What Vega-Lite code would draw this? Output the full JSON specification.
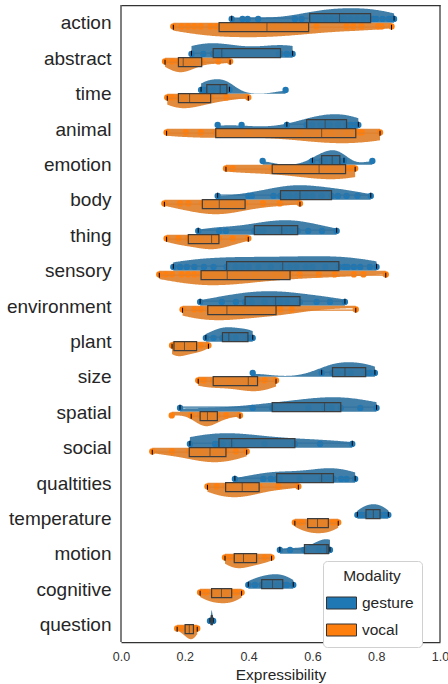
{
  "$schema": "https://vega.github.io/schema/vega-lite/v6.json",
  "padding": {"left": 6, "top": 4, "right": 7, "bottom": 2},
  "spacing": 0,
  "bounds": "flush",
  "resolve": {"scale": {"color": "shared"}},
  "config": {
    "font": "Liberation Sans",
    "view": {"stroke": null},
    "area": {"opacity": 0.92},
    "circle": {"size": 40, "opacity": 1},
    "rule": {"color": "#333333", "strokeWidth": 1.25},
    "boxplot": {"extent": 1.5, "size": 9, "outliers": false,
      "box": {"stroke": "#3d3d3d", "strokeWidth": 1.2, "fillOpacity": 0.85},
      "median": {"color": "#3d3d3d", "strokeWidth": 1.2},
      "rule": {"color": "#3d3d3d", "strokeWidth": 1.2},
      "ticks": {"color": "#3d3d3d", "size": 5}},
    "axis": {"grid": false, "ticks": false, "domainColor": "#333333", "domainWidth": 1.25, "labelFlush": false},
    "axisY": {"title": null, "domain": false, "ticks": false, "labelFontSize": 19, "labelColor": "#262626", "labelPadding": 10},
    "legend": {"orient": "none", "legendX": 202, "legendY": 556, "titleFontSize": 15.5, "titleFontWeight": "normal", "titleColor": "#262626", "titleAnchor": "middle", "labelFontSize": 15.5, "labelColor": "#262626", "symbolType": "M-1.5,-0.6H1.5V0.6H-1.5Z", "symbolSize": 400, "symbolStrokeColor": "#333333", "symbolStrokeWidth": 1, "strokeColor": "#d0d0d0", "fillColor": "white", "cornerRadius": 4, "padding": 8, "rowPadding": 8, "labelOffset": 10, "titlePadding": 8, "symbolOpacity": 1}
  },
  "data": {"values": [
{"c":"action","m":"gesture","v":0.347},{"c":"action","m":"gesture","v":0.381},{"c":"action","m":"gesture","v":0.397},{"c":"action","m":"gesture","v":0.43},{"c":"action","m":"gesture","v":0.545},{"c":"action","m":"gesture","v":0.566},{"c":"action","m":"gesture","v":0.6},{"c":"action","m":"gesture","v":0.61},{"c":"action","m":"gesture","v":0.62},{"c":"action","m":"gesture","v":0.64},{"c":"action","m":"gesture","v":0.66},{"c":"action","m":"gesture","v":0.68},{"c":"action","m":"gesture","v":0.69},{"c":"action","m":"gesture","v":0.7},{"c":"action","m":"gesture","v":0.72},{"c":"action","m":"gesture","v":0.74},{"c":"action","m":"gesture","v":0.76},{"c":"action","m":"gesture","v":0.78},{"c":"action","m":"gesture","v":0.79},{"c":"action","m":"gesture","v":0.8},{"c":"action","m":"gesture","v":0.82},{"c":"action","m":"gesture","v":0.84},{"c":"action","m":"gesture","v":0.85},{"c":"action","m":"gesture","v":0.856},
{"c":"action","m":"vocal","v":0.164},{"c":"action","m":"vocal","v":0.19},{"c":"action","m":"vocal","v":0.21},{"c":"action","m":"vocal","v":0.23},{"c":"action","m":"vocal","v":0.25},{"c":"action","m":"vocal","v":0.28},{"c":"action","m":"vocal","v":0.3},{"c":"action","m":"vocal","v":0.31},{"c":"action","m":"vocal","v":0.33},{"c":"action","m":"vocal","v":0.35},{"c":"action","m":"vocal","v":0.38},{"c":"action","m":"vocal","v":0.4},{"c":"action","m":"vocal","v":0.43},{"c":"action","m":"vocal","v":0.455},{"c":"action","m":"vocal","v":0.46},{"c":"action","m":"vocal","v":0.48},{"c":"action","m":"vocal","v":0.5},{"c":"action","m":"vocal","v":0.53},{"c":"action","m":"vocal","v":0.55},{"c":"action","m":"vocal","v":0.57},{"c":"action","m":"vocal","v":0.58},{"c":"action","m":"vocal","v":0.613},{"c":"action","m":"vocal","v":0.707},{"c":"action","m":"vocal","v":0.728},{"c":"action","m":"vocal","v":0.754},{"c":"action","m":"vocal","v":0.806},{"c":"action","m":"vocal","v":0.817},{"c":"action","m":"vocal","v":0.848},
{"c":"abstract","m":"gesture","v":0.221},{"c":"abstract","m":"gesture","v":0.258},{"c":"abstract","m":"gesture","v":0.289},{"c":"abstract","m":"gesture","v":0.305},{"c":"abstract","m":"gesture","v":0.316},{"c":"abstract","m":"gesture","v":0.495},{"c":"abstract","m":"gesture","v":0.5},{"c":"abstract","m":"gesture","v":0.52},{"c":"abstract","m":"gesture","v":0.538},
{"c":"abstract","m":"vocal","v":0.138},{"c":"abstract","m":"vocal","v":0.16},{"c":"abstract","m":"vocal","v":0.18},{"c":"abstract","m":"vocal","v":0.19},{"c":"abstract","m":"vocal","v":0.195},{"c":"abstract","m":"vocal","v":0.22},{"c":"abstract","m":"vocal","v":0.253},{"c":"abstract","m":"vocal","v":0.305},{"c":"abstract","m":"vocal","v":0.342},
{"c":"time","m":"gesture","v":0.251},{"c":"time","m":"gesture","v":0.26},{"c":"time","m":"gesture","v":0.269},{"c":"time","m":"gesture","v":0.29},{"c":"time","m":"gesture","v":0.311},{"c":"time","m":"gesture","v":0.32},{"c":"time","m":"gesture","v":0.332},{"c":"time","m":"gesture","v":0.34},{"c":"time","m":"gesture","v":0.516},
{"c":"time","m":"vocal","v":0.145},{"c":"time","m":"vocal","v":0.16},{"c":"time","m":"vocal","v":0.18},{"c":"time","m":"vocal","v":0.2},{"c":"time","m":"vocal","v":0.215},{"c":"time","m":"vocal","v":0.25},{"c":"time","m":"vocal","v":0.281},{"c":"time","m":"vocal","v":0.33},{"c":"time","m":"vocal","v":0.399},
{"c":"animal","m":"gesture","v":0.303},{"c":"animal","m":"gesture","v":0.378},{"c":"animal","m":"gesture","v":0.52},{"c":"animal","m":"gesture","v":0.582},{"c":"animal","m":"gesture","v":0.6},{"c":"animal","m":"gesture","v":0.625},{"c":"animal","m":"gesture","v":0.64},{"c":"animal","m":"gesture","v":0.655},{"c":"animal","m":"gesture","v":0.68},{"c":"animal","m":"gesture","v":0.707},{"c":"animal","m":"gesture","v":0.72},{"c":"animal","m":"gesture","v":0.735},{"c":"animal","m":"gesture","v":0.744},
{"c":"animal","m":"vocal","v":0.143},{"c":"animal","m":"vocal","v":0.203},{"c":"animal","m":"vocal","v":0.25},{"c":"animal","m":"vocal","v":0.297},{"c":"animal","m":"vocal","v":0.4},{"c":"animal","m":"vocal","v":0.561},{"c":"animal","m":"vocal","v":0.629},{"c":"animal","m":"vocal","v":0.66},{"c":"animal","m":"vocal","v":0.707},{"c":"animal","m":"vocal","v":0.736},{"c":"animal","m":"vocal","v":0.745},{"c":"animal","m":"vocal","v":0.755},{"c":"animal","m":"vocal","v":0.812},
{"c":"emotion","m":"gesture","v":0.444},{"c":"emotion","m":"gesture","v":0.6},{"c":"emotion","m":"gesture","v":0.629},{"c":"emotion","m":"gesture","v":0.64},{"c":"emotion","m":"gesture","v":0.662},{"c":"emotion","m":"gesture","v":0.67},{"c":"emotion","m":"gesture","v":0.686},{"c":"emotion","m":"gesture","v":0.699},{"c":"emotion","m":"gesture","v":0.788},
{"c":"emotion","m":"vocal","v":0.329},{"c":"emotion","m":"vocal","v":0.35},{"c":"emotion","m":"vocal","v":0.474},{"c":"emotion","m":"vocal","v":0.55},{"c":"emotion","m":"vocal","v":0.621},{"c":"emotion","m":"vocal","v":0.65},{"c":"emotion","m":"vocal","v":0.704},{"c":"emotion","m":"vocal","v":0.72},{"c":"emotion","m":"vocal","v":0.734},
{"c":"body","m":"gesture","v":0.303},{"c":"body","m":"gesture","v":0.399},{"c":"body","m":"gesture","v":0.41},{"c":"body","m":"gesture","v":0.478},{"c":"body","m":"gesture","v":0.5},{"c":"body","m":"gesture","v":0.51},{"c":"body","m":"gesture","v":0.53},{"c":"body","m":"gesture","v":0.55},{"c":"body","m":"gesture","v":0.561},{"c":"body","m":"gesture","v":0.58},{"c":"body","m":"gesture","v":0.6},{"c":"body","m":"gesture","v":0.63},{"c":"body","m":"gesture","v":0.66},{"c":"body","m":"gesture","v":0.68},{"c":"body","m":"gesture","v":0.707},{"c":"body","m":"gesture","v":0.741},{"c":"body","m":"gesture","v":0.783},
{"c":"body","m":"vocal","v":0.136},{"c":"body","m":"vocal","v":0.185},{"c":"body","m":"vocal","v":0.211},{"c":"body","m":"vocal","v":0.255},{"c":"body","m":"vocal","v":0.275},{"c":"body","m":"vocal","v":0.29},{"c":"body","m":"vocal","v":0.308},{"c":"body","m":"vocal","v":0.34},{"c":"body","m":"vocal","v":0.36},{"c":"body","m":"vocal","v":0.389},{"c":"body","m":"vocal","v":0.445},{"c":"body","m":"vocal","v":0.498},{"c":"body","m":"vocal","v":0.561},
{"c":"thing","m":"gesture","v":0.242},{"c":"thing","m":"gesture","v":0.308},{"c":"thing","m":"gesture","v":0.329},{"c":"thing","m":"gesture","v":0.418},{"c":"thing","m":"gesture","v":0.43},{"c":"thing","m":"gesture","v":0.446},{"c":"thing","m":"gesture","v":0.504},{"c":"thing","m":"gesture","v":0.515},{"c":"thing","m":"gesture","v":0.535},{"c":"thing","m":"gesture","v":0.554},{"c":"thing","m":"gesture","v":0.587},{"c":"thing","m":"gesture","v":0.63},{"c":"thing","m":"gesture","v":0.676},
{"c":"thing","m":"vocal","v":0.143},{"c":"thing","m":"vocal","v":0.18},{"c":"thing","m":"vocal","v":0.211},{"c":"thing","m":"vocal","v":0.25},{"c":"thing","m":"vocal","v":0.284},{"c":"thing","m":"vocal","v":0.29},{"c":"thing","m":"vocal","v":0.307},{"c":"thing","m":"vocal","v":0.35},{"c":"thing","m":"vocal","v":0.399},
{"c":"sensory","m":"gesture","v":0.164},{"c":"sensory","m":"gesture","v":0.185},{"c":"sensory","m":"gesture","v":0.206},{"c":"sensory","m":"gesture","v":0.23},{"c":"sensory","m":"gesture","v":0.26},{"c":"sensory","m":"gesture","v":0.29},{"c":"sensory","m":"gesture","v":0.331},{"c":"sensory","m":"gesture","v":0.36},{"c":"sensory","m":"gesture","v":0.38},{"c":"sensory","m":"gesture","v":0.4},{"c":"sensory","m":"gesture","v":0.43},{"c":"sensory","m":"gesture","v":0.47},{"c":"sensory","m":"gesture","v":0.507},{"c":"sensory","m":"gesture","v":0.53},{"c":"sensory","m":"gesture","v":0.55},{"c":"sensory","m":"gesture","v":0.58},{"c":"sensory","m":"gesture","v":0.6},{"c":"sensory","m":"gesture","v":0.64},{"c":"sensory","m":"gesture","v":0.683},{"c":"sensory","m":"gesture","v":0.7},{"c":"sensory","m":"gesture","v":0.71},{"c":"sensory","m":"gesture","v":0.73},{"c":"sensory","m":"gesture","v":0.75},{"c":"sensory","m":"gesture","v":0.78},{"c":"sensory","m":"gesture","v":0.801},
{"c":"sensory","m":"vocal","v":0.12},{"c":"sensory","m":"vocal","v":0.14},{"c":"sensory","m":"vocal","v":0.16},{"c":"sensory","m":"vocal","v":0.19},{"c":"sensory","m":"vocal","v":0.21},{"c":"sensory","m":"vocal","v":0.23},{"c":"sensory","m":"vocal","v":0.251},{"c":"sensory","m":"vocal","v":0.27},{"c":"sensory","m":"vocal","v":0.29},{"c":"sensory","m":"vocal","v":0.3},{"c":"sensory","m":"vocal","v":0.31},{"c":"sensory","m":"vocal","v":0.32},{"c":"sensory","m":"vocal","v":0.333},{"c":"sensory","m":"vocal","v":0.36},{"c":"sensory","m":"vocal","v":0.39},{"c":"sensory","m":"vocal","v":0.42},{"c":"sensory","m":"vocal","v":0.48},{"c":"sensory","m":"vocal","v":0.5},{"c":"sensory","m":"vocal","v":0.53},{"c":"sensory","m":"vocal","v":0.56},{"c":"sensory","m":"vocal","v":0.62},{"c":"sensory","m":"vocal","v":0.67},{"c":"sensory","m":"vocal","v":0.73},{"c":"sensory","m":"vocal","v":0.76},{"c":"sensory","m":"vocal","v":0.83},
{"c":"environment","m":"gesture","v":0.248},{"c":"environment","m":"gesture","v":0.316},{"c":"environment","m":"gesture","v":0.36},{"c":"environment","m":"gesture","v":0.389},{"c":"environment","m":"gesture","v":0.41},{"c":"environment","m":"gesture","v":0.45},{"c":"environment","m":"gesture","v":0.485},{"c":"environment","m":"gesture","v":0.5},{"c":"environment","m":"gesture","v":0.52},{"c":"environment","m":"gesture","v":0.561},{"c":"environment","m":"gesture","v":0.613},{"c":"environment","m":"gesture","v":0.655},{"c":"environment","m":"gesture","v":0.702},
{"c":"environment","m":"vocal","v":0.193},{"c":"environment","m":"vocal","v":0.23},{"c":"environment","m":"vocal","v":0.25},{"c":"environment","m":"vocal","v":0.272},{"c":"environment","m":"vocal","v":0.29},{"c":"environment","m":"vocal","v":0.31},{"c":"environment","m":"vocal","v":0.332},{"c":"environment","m":"vocal","v":0.38},{"c":"environment","m":"vocal","v":0.44},{"c":"environment","m":"vocal","v":0.486},{"c":"environment","m":"vocal","v":0.5},{"c":"environment","m":"vocal","v":0.535},{"c":"environment","m":"vocal","v":0.736},
{"c":"plant","m":"gesture","v":0.266},{"c":"plant","m":"gesture","v":0.29},{"c":"plant","m":"gesture","v":0.318},{"c":"plant","m":"gesture","v":0.33},{"c":"plant","m":"gesture","v":0.338},{"c":"plant","m":"gesture","v":0.36},{"c":"plant","m":"gesture","v":0.398},{"c":"plant","m":"gesture","v":0.405},{"c":"plant","m":"gesture","v":0.413},
{"c":"plant","m":"vocal","v":0.16},{"c":"plant","m":"vocal","v":0.164},{"c":"plant","m":"vocal","v":0.166},{"c":"plant","m":"vocal","v":0.185},{"c":"plant","m":"vocal","v":0.199},{"c":"plant","m":"vocal","v":0.215},{"c":"plant","m":"vocal","v":0.237},{"c":"plant","m":"vocal","v":0.25},{"c":"plant","m":"vocal","v":0.274},
{"c":"size","m":"gesture","v":0.413},{"c":"size","m":"gesture","v":0.629},{"c":"size","m":"gesture","v":0.663},{"c":"size","m":"gesture","v":0.68},{"c":"size","m":"gesture","v":0.702},{"c":"size","m":"gesture","v":0.72},{"c":"size","m":"gesture","v":0.767},{"c":"size","m":"gesture","v":0.78},{"c":"size","m":"gesture","v":0.796},
{"c":"size","m":"vocal","v":0.242},{"c":"size","m":"vocal","v":0.26},{"c":"size","m":"vocal","v":0.289},{"c":"size","m":"vocal","v":0.34},{"c":"size","m":"vocal","v":0.399},{"c":"size","m":"vocal","v":0.41},{"c":"size","m":"vocal","v":0.428},{"c":"size","m":"vocal","v":0.45},{"c":"size","m":"vocal","v":0.486},
{"c":"spatial","m":"gesture","v":0.185},{"c":"spatial","m":"gesture","v":0.413},{"c":"spatial","m":"gesture","v":0.474},{"c":"spatial","m":"gesture","v":0.587},{"c":"spatial","m":"gesture","v":0.638},{"c":"spatial","m":"gesture","v":0.66},{"c":"spatial","m":"gesture","v":0.689},{"c":"spatial","m":"gesture","v":0.75},{"c":"spatial","m":"gesture","v":0.801},
{"c":"spatial","m":"vocal","v":0.159},{"c":"spatial","m":"vocal","v":0.22},{"c":"spatial","m":"vocal","v":0.248},{"c":"spatial","m":"vocal","v":0.26},{"c":"spatial","m":"vocal","v":0.271},{"c":"spatial","m":"vocal","v":0.28},{"c":"spatial","m":"vocal","v":0.302},{"c":"spatial","m":"vocal","v":0.33},{"c":"spatial","m":"vocal","v":0.373},
{"c":"social","m":"gesture","v":0.216},{"c":"social","m":"gesture","v":0.295},{"c":"social","m":"gesture","v":0.307},{"c":"social","m":"gesture","v":0.32},{"c":"social","m":"gesture","v":0.347},{"c":"social","m":"gesture","v":0.45},{"c":"social","m":"gesture","v":0.545},{"c":"social","m":"gesture","v":0.624},{"c":"social","m":"gesture","v":0.725},
{"c":"social","m":"vocal","v":0.098},{"c":"social","m":"vocal","v":0.16},{"c":"social","m":"vocal","v":0.214},{"c":"social","m":"vocal","v":0.25},{"c":"social","m":"vocal","v":0.279},{"c":"social","m":"vocal","v":0.295},{"c":"social","m":"vocal","v":0.329},{"c":"social","m":"vocal","v":0.36},{"c":"social","m":"vocal","v":0.394},
{"c":"qualtities","m":"gesture","v":0.357},{"c":"qualtities","m":"gesture","v":0.446},{"c":"qualtities","m":"gesture","v":0.47},{"c":"qualtities","m":"gesture","v":0.488},{"c":"qualtities","m":"gesture","v":0.498},{"c":"qualtities","m":"gesture","v":0.56},{"c":"qualtities","m":"gesture","v":0.629},{"c":"qualtities","m":"gesture","v":0.635},{"c":"qualtities","m":"gesture","v":0.65},{"c":"qualtities","m":"gesture","v":0.666},{"c":"qualtities","m":"gesture","v":0.69},{"c":"qualtities","m":"gesture","v":0.707},{"c":"qualtities","m":"gesture","v":0.734},
{"c":"qualtities","m":"vocal","v":0.271},{"c":"qualtities","m":"vocal","v":0.3},{"c":"qualtities","m":"vocal","v":0.328},{"c":"qualtities","m":"vocal","v":0.35},{"c":"qualtities","m":"vocal","v":0.38},{"c":"qualtities","m":"vocal","v":0.4},{"c":"qualtities","m":"vocal","v":0.433},{"c":"qualtities","m":"vocal","v":0.493},{"c":"qualtities","m":"vocal","v":0.556},
{"c":"temperature","m":"gesture","v":0.741},{"c":"temperature","m":"gesture","v":0.755},{"c":"temperature","m":"gesture","v":0.768},{"c":"temperature","m":"gesture","v":0.78},{"c":"temperature","m":"gesture","v":0.791},{"c":"temperature","m":"gesture","v":0.8},{"c":"temperature","m":"gesture","v":0.812},{"c":"temperature","m":"gesture","v":0.825},{"c":"temperature","m":"gesture","v":0.838},
{"c":"temperature","m":"vocal","v":0.545},{"c":"temperature","m":"vocal","v":0.565},{"c":"temperature","m":"vocal","v":0.585},{"c":"temperature","m":"vocal","v":0.6},{"c":"temperature","m":"vocal","v":0.616},{"c":"temperature","m":"vocal","v":0.63},{"c":"temperature","m":"vocal","v":0.65},{"c":"temperature","m":"vocal","v":0.665},{"c":"temperature","m":"vocal","v":0.681},
{"c":"motion","m":"gesture","v":0.498},{"c":"motion","m":"gesture","v":0.53},{"c":"motion","m":"gesture","v":0.575},{"c":"motion","m":"gesture","v":0.62},{"c":"motion","m":"gesture","v":0.645},{"c":"motion","m":"gesture","v":0.648},{"c":"motion","m":"gesture","v":0.65},{"c":"motion","m":"gesture","v":0.652},{"c":"motion","m":"gesture","v":0.655},
{"c":"motion","m":"vocal","v":0.326},{"c":"motion","m":"vocal","v":0.34},{"c":"motion","m":"vocal","v":0.355},{"c":"motion","m":"vocal","v":0.37},{"c":"motion","m":"vocal","v":0.384},{"c":"motion","m":"vocal","v":0.4},{"c":"motion","m":"vocal","v":0.425},{"c":"motion","m":"vocal","v":0.45},{"c":"motion","m":"vocal","v":0.472},
{"c":"cognitive","m":"gesture","v":0.399},{"c":"cognitive","m":"gesture","v":0.42},{"c":"cognitive","m":"gesture","v":0.441},{"c":"cognitive","m":"gesture","v":0.46},{"c":"cognitive","m":"gesture","v":0.475},{"c":"cognitive","m":"gesture","v":0.49},{"c":"cognitive","m":"gesture","v":0.507},{"c":"cognitive","m":"gesture","v":0.52},{"c":"cognitive","m":"gesture","v":0.54},
{"c":"cognitive","m":"vocal","v":0.248},{"c":"cognitive","m":"vocal","v":0.265},{"c":"cognitive","m":"vocal","v":0.284},{"c":"cognitive","m":"vocal","v":0.3},{"c":"cognitive","m":"vocal","v":0.315},{"c":"cognitive","m":"vocal","v":0.33},{"c":"cognitive","m":"vocal","v":0.347},{"c":"cognitive","m":"vocal","v":0.36},{"c":"cognitive","m":"vocal","v":0.378},
{"c":"question","m":"gesture","v":0.279},{"c":"question","m":"gesture","v":0.283},{"c":"question","m":"gesture","v":0.284},{"c":"question","m":"gesture","v":0.286},{"c":"question","m":"gesture","v":0.289},
{"c":"question","m":"vocal","v":0.176},{"c":"question","m":"vocal","v":0.19},{"c":"question","m":"vocal","v":0.201},{"c":"question","m":"vocal","v":0.21},{"c":"question","m":"vocal","v":0.214},{"c":"question","m":"vocal","v":0.22},{"c":"question","m":"vocal","v":0.227},{"c":"question","m":"vocal","v":0.233},{"c":"question","m":"vocal","v":0.239}
  ]},
  "vconcat": [
{"width":319,"height":35,"transform":[{"filter":"datum.c==='action'"}],"resolve":{"scale":{"y":"independent"}},"layer":[
{"transform":[{"filter":"datum.m==='gesture'"},{"density":"v","as":["v","d"]}],"mark":{"type":"area","color":"#3274a1"},"encoding":{"x":{"field":"v","type":"quantitative","scale":{"domain":[0,1],"nice":false},"axis":{"orient":"top","labels":false,"title":null}},"y":{"field":"d","type":"quantitative","scale":{"range":[17.7,3.2],"nice":false},"axis":null}}},
{"transform":[{"filter":"datum.m==='vocal'"},{"density":"v","as":["v","d"]}],"mark":{"type":"area","color":"#e1812c"},"encoding":{"x":{"field":"v","type":"quantitative","axis":{"orient":"top","labels":false,"title":null}},"y":{"field":"d","type":"quantitative","scale":{"range":[17.7,32.2],"nice":false},"axis":null}}},
{"mark":"circle","encoding":{"x":{"field":"v","type":"quantitative","axis":{"orient":"top","labels":false,"title":null}},"y":{"field":"m","type":"nominal","scale":{"type":"point","domain":["gesture","vocal"],"range":[10.2,25.2]},"axis":null},"color":{"field":"m","type":"nominal","title":"Modality","scale":{"domain":["gesture","vocal"],"range":["#1f77b4","#ff7f0e"]}}}},
{"transform":[{"filter":"datum.m==='gesture'"}],"mark":{"type":"boxplot","color":"#3274a1"},"encoding":{"x":{"field":"v","type":"quantitative","axis":{"orient":"top","labels":false,"title":null}},"y":{"field":"m","type":"nominal","scale":{"type":"band","domain":["gesture","vocal"],"range":[8.7,26.7],"padding":0},"axis":null}}},
{"transform":[{"filter":"datum.m==='vocal'"}],"mark":{"type":"boxplot","color":"#e1812c"},"encoding":{"x":{"field":"v","type":"quantitative","axis":{"orient":"top","labels":false,"title":null}},"y":{"field":"m","type":"nominal","scale":{"type":"band","domain":["gesture","vocal"],"range":[8.7,26.7],"padding":0},"axis":null}}},
{"data":{"values":[{}]},"mark":"rule","encoding":{"x":{"datum":0,"type":"quantitative","axis":{"orient":"top","labels":false,"title":null}}}},
{"data":{"values":[{}]},"mark":"rule","encoding":{"x":{"datum":1,"type":"quantitative","axis":{"orient":"top","labels":false,"title":null}}}},
{"mark":{"type":"point","opacity":0},"encoding":{"x":{"datum":0,"type":"quantitative","axis":{"orient":"top","labels":false,"title":null}},"y":{"field":"c","type":"nominal"}}}
]},
{"width":319,"height":36,"transform":[{"filter":"datum.c==='abstract'"}],"resolve":{"scale":{"y":"independent"}},"layer":[
{"transform":[{"filter":"datum.m==='gesture'"},{"density":"v","as":["v","d"]}],"mark":{"type":"area","color":"#3274a1"},"encoding":{"x":{"field":"v","type":"quantitative","scale":{"domain":[0,1],"nice":false},"axis":null},"y":{"field":"d","type":"quantitative","scale":{"range":[17.7,3.2],"nice":false},"axis":null}}},
{"transform":[{"filter":"datum.m==='vocal'"},{"density":"v","as":["v","d"]}],"mark":{"type":"area","color":"#e1812c"},"encoding":{"x":{"field":"v","type":"quantitative","axis":null},"y":{"field":"d","type":"quantitative","scale":{"range":[17.7,32.2],"nice":false},"axis":null}}},
{"mark":"circle","encoding":{"x":{"field":"v","type":"quantitative","axis":null},"y":{"field":"m","type":"nominal","scale":{"type":"point","domain":["gesture","vocal"],"range":[10.2,25.2]},"axis":null},"color":{"field":"m","type":"nominal","title":"Modality","scale":{"domain":["gesture","vocal"],"range":["#1f77b4","#ff7f0e"]}}}},
{"transform":[{"filter":"datum.m==='gesture'"}],"mark":{"type":"boxplot","color":"#3274a1"},"encoding":{"x":{"field":"v","type":"quantitative","axis":null},"y":{"field":"m","type":"nominal","scale":{"type":"band","domain":["gesture","vocal"],"range":[8.7,26.7],"padding":0},"axis":null}}},
{"transform":[{"filter":"datum.m==='vocal'"}],"mark":{"type":"boxplot","color":"#e1812c"},"encoding":{"x":{"field":"v","type":"quantitative","axis":null},"y":{"field":"m","type":"nominal","scale":{"type":"band","domain":["gesture","vocal"],"range":[8.7,26.7],"padding":0},"axis":null}}},
{"data":{"values":[{}]},"mark":"rule","encoding":{"x":{"datum":0,"type":"quantitative","axis":null}}},
{"data":{"values":[{}]},"mark":"rule","encoding":{"x":{"datum":1,"type":"quantitative","axis":null}}},
{"mark":{"type":"point","opacity":0},"encoding":{"x":{"datum":0,"type":"quantitative","axis":null},"y":{"field":"c","type":"nominal"}}}
]},
{"width":319,"height":35,"transform":[{"filter":"datum.c==='time'"}],"resolve":{"scale":{"y":"independent"}},"layer":[
{"transform":[{"filter":"datum.m==='gesture'"},{"density":"v","as":["v","d"]}],"mark":{"type":"area","color":"#3274a1"},"encoding":{"x":{"field":"v","type":"quantitative","scale":{"domain":[0,1],"nice":false},"axis":null},"y":{"field":"d","type":"quantitative","scale":{"range":[17.7,3.2],"nice":false},"axis":null}}},
{"transform":[{"filter":"datum.m==='vocal'"},{"density":"v","as":["v","d"]}],"mark":{"type":"area","color":"#e1812c"},"encoding":{"x":{"field":"v","type":"quantitative","axis":null},"y":{"field":"d","type":"quantitative","scale":{"range":[17.7,32.2],"nice":false},"axis":null}}},
{"mark":"circle","encoding":{"x":{"field":"v","type":"quantitative","axis":null},"y":{"field":"m","type":"nominal","scale":{"type":"point","domain":["gesture","vocal"],"range":[10.2,25.2]},"axis":null},"color":{"field":"m","type":"nominal","title":"Modality","scale":{"domain":["gesture","vocal"],"range":["#1f77b4","#ff7f0e"]}}}},
{"transform":[{"filter":"datum.m==='gesture'"}],"mark":{"type":"boxplot","color":"#3274a1"},"encoding":{"x":{"field":"v","type":"quantitative","axis":null},"y":{"field":"m","type":"nominal","scale":{"type":"band","domain":["gesture","vocal"],"range":[8.7,26.7],"padding":0},"axis":null}}},
{"transform":[{"filter":"datum.m==='vocal'"}],"mark":{"type":"boxplot","color":"#e1812c"},"encoding":{"x":{"field":"v","type":"quantitative","axis":null},"y":{"field":"m","type":"nominal","scale":{"type":"band","domain":["gesture","vocal"],"range":[8.7,26.7],"padding":0},"axis":null}}},
{"data":{"values":[{}]},"mark":"rule","encoding":{"x":{"datum":0,"type":"quantitative","axis":null}}},
{"data":{"values":[{}]},"mark":"rule","encoding":{"x":{"datum":1,"type":"quantitative","axis":null}}},
{"mark":{"type":"point","opacity":0},"encoding":{"x":{"datum":0,"type":"quantitative","axis":null},"y":{"field":"c","type":"nominal"}}}
]},
{"width":319,"height":36,"transform":[{"filter":"datum.c==='animal'"}],"resolve":{"scale":{"y":"independent"}},"layer":[
{"transform":[{"filter":"datum.m==='gesture'"},{"density":"v","as":["v","d"]}],"mark":{"type":"area","color":"#3274a1"},"encoding":{"x":{"field":"v","type":"quantitative","scale":{"domain":[0,1],"nice":false},"axis":null},"y":{"field":"d","type":"quantitative","scale":{"range":[17.7,3.2],"nice":false},"axis":null}}},
{"transform":[{"filter":"datum.m==='vocal'"},{"density":"v","as":["v","d"]}],"mark":{"type":"area","color":"#e1812c"},"encoding":{"x":{"field":"v","type":"quantitative","axis":null},"y":{"field":"d","type":"quantitative","scale":{"range":[17.7,32.2],"nice":false},"axis":null}}},
{"mark":"circle","encoding":{"x":{"field":"v","type":"quantitative","axis":null},"y":{"field":"m","type":"nominal","scale":{"type":"point","domain":["gesture","vocal"],"range":[10.2,25.2]},"axis":null},"color":{"field":"m","type":"nominal","title":"Modality","scale":{"domain":["gesture","vocal"],"range":["#1f77b4","#ff7f0e"]}}}},
{"transform":[{"filter":"datum.m==='gesture'"}],"mark":{"type":"boxplot","color":"#3274a1"},"encoding":{"x":{"field":"v","type":"quantitative","axis":null},"y":{"field":"m","type":"nominal","scale":{"type":"band","domain":["gesture","vocal"],"range":[8.7,26.7],"padding":0},"axis":null}}},
{"transform":[{"filter":"datum.m==='vocal'"}],"mark":{"type":"boxplot","color":"#e1812c"},"encoding":{"x":{"field":"v","type":"quantitative","axis":null},"y":{"field":"m","type":"nominal","scale":{"type":"band","domain":["gesture","vocal"],"range":[8.7,26.7],"padding":0},"axis":null}}},
{"data":{"values":[{}]},"mark":"rule","encoding":{"x":{"datum":0,"type":"quantitative","axis":null}}},
{"data":{"values":[{}]},"mark":"rule","encoding":{"x":{"datum":1,"type":"quantitative","axis":null}}},
{"mark":{"type":"point","opacity":0},"encoding":{"x":{"datum":0,"type":"quantitative","axis":null},"y":{"field":"c","type":"nominal"}}}
]},
{"width":319,"height":35,"transform":[{"filter":"datum.c==='emotion'"}],"resolve":{"scale":{"y":"independent"}},"layer":[
{"transform":[{"filter":"datum.m==='gesture'"},{"density":"v","as":["v","d"]}],"mark":{"type":"area","color":"#3274a1"},"encoding":{"x":{"field":"v","type":"quantitative","scale":{"domain":[0,1],"nice":false},"axis":null},"y":{"field":"d","type":"quantitative","scale":{"range":[17.7,3.2],"nice":false},"axis":null}}},
{"transform":[{"filter":"datum.m==='vocal'"},{"density":"v","as":["v","d"]}],"mark":{"type":"area","color":"#e1812c"},"encoding":{"x":{"field":"v","type":"quantitative","axis":null},"y":{"field":"d","type":"quantitative","scale":{"range":[17.7,32.2],"nice":false},"axis":null}}},
{"mark":"circle","encoding":{"x":{"field":"v","type":"quantitative","axis":null},"y":{"field":"m","type":"nominal","scale":{"type":"point","domain":["gesture","vocal"],"range":[10.2,25.2]},"axis":null},"color":{"field":"m","type":"nominal","title":"Modality","scale":{"domain":["gesture","vocal"],"range":["#1f77b4","#ff7f0e"]}}}},
{"transform":[{"filter":"datum.m==='gesture'"}],"mark":{"type":"boxplot","color":"#3274a1"},"encoding":{"x":{"field":"v","type":"quantitative","axis":null},"y":{"field":"m","type":"nominal","scale":{"type":"band","domain":["gesture","vocal"],"range":[8.7,26.7],"padding":0},"axis":null}}},
{"transform":[{"filter":"datum.m==='vocal'"}],"mark":{"type":"boxplot","color":"#e1812c"},"encoding":{"x":{"field":"v","type":"quantitative","axis":null},"y":{"field":"m","type":"nominal","scale":{"type":"band","domain":["gesture","vocal"],"range":[8.7,26.7],"padding":0},"axis":null}}},
{"data":{"values":[{}]},"mark":"rule","encoding":{"x":{"datum":0,"type":"quantitative","axis":null}}},
{"data":{"values":[{}]},"mark":"rule","encoding":{"x":{"datum":1,"type":"quantitative","axis":null}}},
{"mark":{"type":"point","opacity":0},"encoding":{"x":{"datum":0,"type":"quantitative","axis":null},"y":{"field":"c","type":"nominal"}}}
]},
{"width":319,"height":35,"transform":[{"filter":"datum.c==='body'"}],"resolve":{"scale":{"y":"independent"}},"layer":[
{"transform":[{"filter":"datum.m==='gesture'"},{"density":"v","as":["v","d"]}],"mark":{"type":"area","color":"#3274a1"},"encoding":{"x":{"field":"v","type":"quantitative","scale":{"domain":[0,1],"nice":false},"axis":null},"y":{"field":"d","type":"quantitative","scale":{"range":[17.7,3.2],"nice":false},"axis":null}}},
{"transform":[{"filter":"datum.m==='vocal'"},{"density":"v","as":["v","d"]}],"mark":{"type":"area","color":"#e1812c"},"encoding":{"x":{"field":"v","type":"quantitative","axis":null},"y":{"field":"d","type":"quantitative","scale":{"range":[17.7,32.2],"nice":false},"axis":null}}},
{"mark":"circle","encoding":{"x":{"field":"v","type":"quantitative","axis":null},"y":{"field":"m","type":"nominal","scale":{"type":"point","domain":["gesture","vocal"],"range":[10.2,25.2]},"axis":null},"color":{"field":"m","type":"nominal","title":"Modality","scale":{"domain":["gesture","vocal"],"range":["#1f77b4","#ff7f0e"]}}}},
{"transform":[{"filter":"datum.m==='gesture'"}],"mark":{"type":"boxplot","color":"#3274a1"},"encoding":{"x":{"field":"v","type":"quantitative","axis":null},"y":{"field":"m","type":"nominal","scale":{"type":"band","domain":["gesture","vocal"],"range":[8.7,26.7],"padding":0},"axis":null}}},
{"transform":[{"filter":"datum.m==='vocal'"}],"mark":{"type":"boxplot","color":"#e1812c"},"encoding":{"x":{"field":"v","type":"quantitative","axis":null},"y":{"field":"m","type":"nominal","scale":{"type":"band","domain":["gesture","vocal"],"range":[8.7,26.7],"padding":0},"axis":null}}},
{"data":{"values":[{}]},"mark":"rule","encoding":{"x":{"datum":0,"type":"quantitative","axis":null}}},
{"data":{"values":[{}]},"mark":"rule","encoding":{"x":{"datum":1,"type":"quantitative","axis":null}}},
{"mark":{"type":"point","opacity":0},"encoding":{"x":{"datum":0,"type":"quantitative","axis":null},"y":{"field":"c","type":"nominal"}}}
]},
{"width":319,"height":36,"transform":[{"filter":"datum.c==='thing'"}],"resolve":{"scale":{"y":"independent"}},"layer":[
{"transform":[{"filter":"datum.m==='gesture'"},{"density":"v","as":["v","d"]}],"mark":{"type":"area","color":"#3274a1"},"encoding":{"x":{"field":"v","type":"quantitative","scale":{"domain":[0,1],"nice":false},"axis":null},"y":{"field":"d","type":"quantitative","scale":{"range":[17.7,3.2],"nice":false},"axis":null}}},
{"transform":[{"filter":"datum.m==='vocal'"},{"density":"v","as":["v","d"]}],"mark":{"type":"area","color":"#e1812c"},"encoding":{"x":{"field":"v","type":"quantitative","axis":null},"y":{"field":"d","type":"quantitative","scale":{"range":[17.7,32.2],"nice":false},"axis":null}}},
{"mark":"circle","encoding":{"x":{"field":"v","type":"quantitative","axis":null},"y":{"field":"m","type":"nominal","scale":{"type":"point","domain":["gesture","vocal"],"range":[10.2,25.2]},"axis":null},"color":{"field":"m","type":"nominal","title":"Modality","scale":{"domain":["gesture","vocal"],"range":["#1f77b4","#ff7f0e"]}}}},
{"transform":[{"filter":"datum.m==='gesture'"}],"mark":{"type":"boxplot","color":"#3274a1"},"encoding":{"x":{"field":"v","type":"quantitative","axis":null},"y":{"field":"m","type":"nominal","scale":{"type":"band","domain":["gesture","vocal"],"range":[8.7,26.7],"padding":0},"axis":null}}},
{"transform":[{"filter":"datum.m==='vocal'"}],"mark":{"type":"boxplot","color":"#e1812c"},"encoding":{"x":{"field":"v","type":"quantitative","axis":null},"y":{"field":"m","type":"nominal","scale":{"type":"band","domain":["gesture","vocal"],"range":[8.7,26.7],"padding":0},"axis":null}}},
{"data":{"values":[{}]},"mark":"rule","encoding":{"x":{"datum":0,"type":"quantitative","axis":null}}},
{"data":{"values":[{}]},"mark":"rule","encoding":{"x":{"datum":1,"type":"quantitative","axis":null}}},
{"mark":{"type":"point","opacity":0},"encoding":{"x":{"datum":0,"type":"quantitative","axis":null},"y":{"field":"c","type":"nominal"}}}
]},
{"width":319,"height":35,"transform":[{"filter":"datum.c==='sensory'"}],"resolve":{"scale":{"y":"independent"}},"layer":[
{"transform":[{"filter":"datum.m==='gesture'"},{"density":"v","as":["v","d"]}],"mark":{"type":"area","color":"#3274a1"},"encoding":{"x":{"field":"v","type":"quantitative","scale":{"domain":[0,1],"nice":false},"axis":null},"y":{"field":"d","type":"quantitative","scale":{"range":[17.7,3.2],"nice":false},"axis":null}}},
{"transform":[{"filter":"datum.m==='vocal'"},{"density":"v","as":["v","d"]}],"mark":{"type":"area","color":"#e1812c"},"encoding":{"x":{"field":"v","type":"quantitative","axis":null},"y":{"field":"d","type":"quantitative","scale":{"range":[17.7,32.2],"nice":false},"axis":null}}},
{"mark":"circle","encoding":{"x":{"field":"v","type":"quantitative","axis":null},"y":{"field":"m","type":"nominal","scale":{"type":"point","domain":["gesture","vocal"],"range":[10.2,25.2]},"axis":null},"color":{"field":"m","type":"nominal","title":"Modality","scale":{"domain":["gesture","vocal"],"range":["#1f77b4","#ff7f0e"]}}}},
{"transform":[{"filter":"datum.m==='gesture'"}],"mark":{"type":"boxplot","color":"#3274a1"},"encoding":{"x":{"field":"v","type":"quantitative","axis":null},"y":{"field":"m","type":"nominal","scale":{"type":"band","domain":["gesture","vocal"],"range":[8.7,26.7],"padding":0},"axis":null}}},
{"transform":[{"filter":"datum.m==='vocal'"}],"mark":{"type":"boxplot","color":"#e1812c"},"encoding":{"x":{"field":"v","type":"quantitative","axis":null},"y":{"field":"m","type":"nominal","scale":{"type":"band","domain":["gesture","vocal"],"range":[8.7,26.7],"padding":0},"axis":null}}},
{"data":{"values":[{}]},"mark":"rule","encoding":{"x":{"datum":0,"type":"quantitative","axis":null}}},
{"data":{"values":[{}]},"mark":"rule","encoding":{"x":{"datum":1,"type":"quantitative","axis":null}}},
{"mark":{"type":"point","opacity":0},"encoding":{"x":{"datum":0,"type":"quantitative","axis":null},"y":{"field":"c","type":"nominal"}}}
]},
{"width":319,"height":36,"transform":[{"filter":"datum.c==='environment'"}],"resolve":{"scale":{"y":"independent"}},"layer":[
{"transform":[{"filter":"datum.m==='gesture'"},{"density":"v","as":["v","d"]}],"mark":{"type":"area","color":"#3274a1"},"encoding":{"x":{"field":"v","type":"quantitative","scale":{"domain":[0,1],"nice":false},"axis":null},"y":{"field":"d","type":"quantitative","scale":{"range":[17.7,3.2],"nice":false},"axis":null}}},
{"transform":[{"filter":"datum.m==='vocal'"},{"density":"v","as":["v","d"]}],"mark":{"type":"area","color":"#e1812c"},"encoding":{"x":{"field":"v","type":"quantitative","axis":null},"y":{"field":"d","type":"quantitative","scale":{"range":[17.7,32.2],"nice":false},"axis":null}}},
{"mark":"circle","encoding":{"x":{"field":"v","type":"quantitative","axis":null},"y":{"field":"m","type":"nominal","scale":{"type":"point","domain":["gesture","vocal"],"range":[10.2,25.2]},"axis":null},"color":{"field":"m","type":"nominal","title":"Modality","scale":{"domain":["gesture","vocal"],"range":["#1f77b4","#ff7f0e"]}}}},
{"transform":[{"filter":"datum.m==='gesture'"}],"mark":{"type":"boxplot","color":"#3274a1"},"encoding":{"x":{"field":"v","type":"quantitative","axis":null},"y":{"field":"m","type":"nominal","scale":{"type":"band","domain":["gesture","vocal"],"range":[8.7,26.7],"padding":0},"axis":null}}},
{"transform":[{"filter":"datum.m==='vocal'"}],"mark":{"type":"boxplot","color":"#e1812c"},"encoding":{"x":{"field":"v","type":"quantitative","axis":null},"y":{"field":"m","type":"nominal","scale":{"type":"band","domain":["gesture","vocal"],"range":[8.7,26.7],"padding":0},"axis":null}}},
{"data":{"values":[{}]},"mark":"rule","encoding":{"x":{"datum":0,"type":"quantitative","axis":null}}},
{"data":{"values":[{}]},"mark":"rule","encoding":{"x":{"datum":1,"type":"quantitative","axis":null}}},
{"mark":{"type":"point","opacity":0},"encoding":{"x":{"datum":0,"type":"quantitative","axis":null},"y":{"field":"c","type":"nominal"}}}
]},
{"width":319,"height":35,"transform":[{"filter":"datum.c==='plant'"}],"resolve":{"scale":{"y":"independent"}},"layer":[
{"transform":[{"filter":"datum.m==='gesture'"},{"density":"v","as":["v","d"]}],"mark":{"type":"area","color":"#3274a1"},"encoding":{"x":{"field":"v","type":"quantitative","scale":{"domain":[0,1],"nice":false},"axis":null},"y":{"field":"d","type":"quantitative","scale":{"range":[17.7,3.2],"nice":false},"axis":null}}},
{"transform":[{"filter":"datum.m==='vocal'"},{"density":"v","as":["v","d"]}],"mark":{"type":"area","color":"#e1812c"},"encoding":{"x":{"field":"v","type":"quantitative","axis":null},"y":{"field":"d","type":"quantitative","scale":{"range":[17.7,32.2],"nice":false},"axis":null}}},
{"mark":"circle","encoding":{"x":{"field":"v","type":"quantitative","axis":null},"y":{"field":"m","type":"nominal","scale":{"type":"point","domain":["gesture","vocal"],"range":[10.2,25.2]},"axis":null},"color":{"field":"m","type":"nominal","title":"Modality","scale":{"domain":["gesture","vocal"],"range":["#1f77b4","#ff7f0e"]}}}},
{"transform":[{"filter":"datum.m==='gesture'"}],"mark":{"type":"boxplot","color":"#3274a1"},"encoding":{"x":{"field":"v","type":"quantitative","axis":null},"y":{"field":"m","type":"nominal","scale":{"type":"band","domain":["gesture","vocal"],"range":[8.7,26.7],"padding":0},"axis":null}}},
{"transform":[{"filter":"datum.m==='vocal'"}],"mark":{"type":"boxplot","color":"#e1812c"},"encoding":{"x":{"field":"v","type":"quantitative","axis":null},"y":{"field":"m","type":"nominal","scale":{"type":"band","domain":["gesture","vocal"],"range":[8.7,26.7],"padding":0},"axis":null}}},
{"data":{"values":[{}]},"mark":"rule","encoding":{"x":{"datum":0,"type":"quantitative","axis":null}}},
{"data":{"values":[{}]},"mark":"rule","encoding":{"x":{"datum":1,"type":"quantitative","axis":null}}},
{"mark":{"type":"point","opacity":0},"encoding":{"x":{"datum":0,"type":"quantitative","axis":null},"y":{"field":"c","type":"nominal"}}}
]},
{"width":319,"height":35,"transform":[{"filter":"datum.c==='size'"}],"resolve":{"scale":{"y":"independent"}},"layer":[
{"transform":[{"filter":"datum.m==='gesture'"},{"density":"v","as":["v","d"]}],"mark":{"type":"area","color":"#3274a1"},"encoding":{"x":{"field":"v","type":"quantitative","scale":{"domain":[0,1],"nice":false},"axis":null},"y":{"field":"d","type":"quantitative","scale":{"range":[17.7,3.2],"nice":false},"axis":null}}},
{"transform":[{"filter":"datum.m==='vocal'"},{"density":"v","as":["v","d"]}],"mark":{"type":"area","color":"#e1812c"},"encoding":{"x":{"field":"v","type":"quantitative","axis":null},"y":{"field":"d","type":"quantitative","scale":{"range":[17.7,32.2],"nice":false},"axis":null}}},
{"mark":"circle","encoding":{"x":{"field":"v","type":"quantitative","axis":null},"y":{"field":"m","type":"nominal","scale":{"type":"point","domain":["gesture","vocal"],"range":[10.2,25.2]},"axis":null},"color":{"field":"m","type":"nominal","title":"Modality","scale":{"domain":["gesture","vocal"],"range":["#1f77b4","#ff7f0e"]}}}},
{"transform":[{"filter":"datum.m==='gesture'"}],"mark":{"type":"boxplot","color":"#3274a1"},"encoding":{"x":{"field":"v","type":"quantitative","axis":null},"y":{"field":"m","type":"nominal","scale":{"type":"band","domain":["gesture","vocal"],"range":[8.7,26.7],"padding":0},"axis":null}}},
{"transform":[{"filter":"datum.m==='vocal'"}],"mark":{"type":"boxplot","color":"#e1812c"},"encoding":{"x":{"field":"v","type":"quantitative","axis":null},"y":{"field":"m","type":"nominal","scale":{"type":"band","domain":["gesture","vocal"],"range":[8.7,26.7],"padding":0},"axis":null}}},
{"data":{"values":[{}]},"mark":"rule","encoding":{"x":{"datum":0,"type":"quantitative","axis":null}}},
{"data":{"values":[{}]},"mark":"rule","encoding":{"x":{"datum":1,"type":"quantitative","axis":null}}},
{"mark":{"type":"point","opacity":0},"encoding":{"x":{"datum":0,"type":"quantitative","axis":null},"y":{"field":"c","type":"nominal"}}}
]},
{"width":319,"height":36,"transform":[{"filter":"datum.c==='spatial'"}],"resolve":{"scale":{"y":"independent"}},"layer":[
{"transform":[{"filter":"datum.m==='gesture'"},{"density":"v","as":["v","d"]}],"mark":{"type":"area","color":"#3274a1"},"encoding":{"x":{"field":"v","type":"quantitative","scale":{"domain":[0,1],"nice":false},"axis":null},"y":{"field":"d","type":"quantitative","scale":{"range":[17.7,3.2],"nice":false},"axis":null}}},
{"transform":[{"filter":"datum.m==='vocal'"},{"density":"v","as":["v","d"]}],"mark":{"type":"area","color":"#e1812c"},"encoding":{"x":{"field":"v","type":"quantitative","axis":null},"y":{"field":"d","type":"quantitative","scale":{"range":[17.7,32.2],"nice":false},"axis":null}}},
{"mark":"circle","encoding":{"x":{"field":"v","type":"quantitative","axis":null},"y":{"field":"m","type":"nominal","scale":{"type":"point","domain":["gesture","vocal"],"range":[10.2,25.2]},"axis":null},"color":{"field":"m","type":"nominal","title":"Modality","scale":{"domain":["gesture","vocal"],"range":["#1f77b4","#ff7f0e"]}}}},
{"transform":[{"filter":"datum.m==='gesture'"}],"mark":{"type":"boxplot","color":"#3274a1"},"encoding":{"x":{"field":"v","type":"quantitative","axis":null},"y":{"field":"m","type":"nominal","scale":{"type":"band","domain":["gesture","vocal"],"range":[8.7,26.7],"padding":0},"axis":null}}},
{"transform":[{"filter":"datum.m==='vocal'"}],"mark":{"type":"boxplot","color":"#e1812c"},"encoding":{"x":{"field":"v","type":"quantitative","axis":null},"y":{"field":"m","type":"nominal","scale":{"type":"band","domain":["gesture","vocal"],"range":[8.7,26.7],"padding":0},"axis":null}}},
{"data":{"values":[{}]},"mark":"rule","encoding":{"x":{"datum":0,"type":"quantitative","axis":null}}},
{"data":{"values":[{}]},"mark":"rule","encoding":{"x":{"datum":1,"type":"quantitative","axis":null}}},
{"mark":{"type":"point","opacity":0},"encoding":{"x":{"datum":0,"type":"quantitative","axis":null},"y":{"field":"c","type":"nominal"}}}
]},
{"width":319,"height":35,"transform":[{"filter":"datum.c==='social'"}],"resolve":{"scale":{"y":"independent"}},"layer":[
{"transform":[{"filter":"datum.m==='gesture'"},{"density":"v","as":["v","d"]}],"mark":{"type":"area","color":"#3274a1"},"encoding":{"x":{"field":"v","type":"quantitative","scale":{"domain":[0,1],"nice":false},"axis":null},"y":{"field":"d","type":"quantitative","scale":{"range":[17.7,3.2],"nice":false},"axis":null}}},
{"transform":[{"filter":"datum.m==='vocal'"},{"density":"v","as":["v","d"]}],"mark":{"type":"area","color":"#e1812c"},"encoding":{"x":{"field":"v","type":"quantitative","axis":null},"y":{"field":"d","type":"quantitative","scale":{"range":[17.7,32.2],"nice":false},"axis":null}}},
{"mark":"circle","encoding":{"x":{"field":"v","type":"quantitative","axis":null},"y":{"field":"m","type":"nominal","scale":{"type":"point","domain":["gesture","vocal"],"range":[10.2,25.2]},"axis":null},"color":{"field":"m","type":"nominal","title":"Modality","scale":{"domain":["gesture","vocal"],"range":["#1f77b4","#ff7f0e"]}}}},
{"transform":[{"filter":"datum.m==='gesture'"}],"mark":{"type":"boxplot","color":"#3274a1"},"encoding":{"x":{"field":"v","type":"quantitative","axis":null},"y":{"field":"m","type":"nominal","scale":{"type":"band","domain":["gesture","vocal"],"range":[8.7,26.7],"padding":0},"axis":null}}},
{"transform":[{"filter":"datum.m==='vocal'"}],"mark":{"type":"boxplot","color":"#e1812c"},"encoding":{"x":{"field":"v","type":"quantitative","axis":null},"y":{"field":"m","type":"nominal","scale":{"type":"band","domain":["gesture","vocal"],"range":[8.7,26.7],"padding":0},"axis":null}}},
{"data":{"values":[{}]},"mark":"rule","encoding":{"x":{"datum":0,"type":"quantitative","axis":null}}},
{"data":{"values":[{}]},"mark":"rule","encoding":{"x":{"datum":1,"type":"quantitative","axis":null}}},
{"mark":{"type":"point","opacity":0},"encoding":{"x":{"datum":0,"type":"quantitative","axis":null},"y":{"field":"c","type":"nominal"}}}
]},
{"width":319,"height":36,"transform":[{"filter":"datum.c==='qualtities'"}],"resolve":{"scale":{"y":"independent"}},"layer":[
{"transform":[{"filter":"datum.m==='gesture'"},{"density":"v","as":["v","d"]}],"mark":{"type":"area","color":"#3274a1"},"encoding":{"x":{"field":"v","type":"quantitative","scale":{"domain":[0,1],"nice":false},"axis":null},"y":{"field":"d","type":"quantitative","scale":{"range":[17.7,3.2],"nice":false},"axis":null}}},
{"transform":[{"filter":"datum.m==='vocal'"},{"density":"v","as":["v","d"]}],"mark":{"type":"area","color":"#e1812c"},"encoding":{"x":{"field":"v","type":"quantitative","axis":null},"y":{"field":"d","type":"quantitative","scale":{"range":[17.7,32.2],"nice":false},"axis":null}}},
{"mark":"circle","encoding":{"x":{"field":"v","type":"quantitative","axis":null},"y":{"field":"m","type":"nominal","scale":{"type":"point","domain":["gesture","vocal"],"range":[10.2,25.2]},"axis":null},"color":{"field":"m","type":"nominal","title":"Modality","scale":{"domain":["gesture","vocal"],"range":["#1f77b4","#ff7f0e"]}}}},
{"transform":[{"filter":"datum.m==='gesture'"}],"mark":{"type":"boxplot","color":"#3274a1"},"encoding":{"x":{"field":"v","type":"quantitative","axis":null},"y":{"field":"m","type":"nominal","scale":{"type":"band","domain":["gesture","vocal"],"range":[8.7,26.7],"padding":0},"axis":null}}},
{"transform":[{"filter":"datum.m==='vocal'"}],"mark":{"type":"boxplot","color":"#e1812c"},"encoding":{"x":{"field":"v","type":"quantitative","axis":null},"y":{"field":"m","type":"nominal","scale":{"type":"band","domain":["gesture","vocal"],"range":[8.7,26.7],"padding":0},"axis":null}}},
{"data":{"values":[{}]},"mark":"rule","encoding":{"x":{"datum":0,"type":"quantitative","axis":null}}},
{"data":{"values":[{}]},"mark":"rule","encoding":{"x":{"datum":1,"type":"quantitative","axis":null}}},
{"mark":{"type":"point","opacity":0},"encoding":{"x":{"datum":0,"type":"quantitative","axis":null},"y":{"field":"c","type":"nominal"}}}
]},
{"width":319,"height":35,"transform":[{"filter":"datum.c==='temperature'"}],"resolve":{"scale":{"y":"independent"}},"layer":[
{"transform":[{"filter":"datum.m==='gesture'"},{"density":"v","as":["v","d"]}],"mark":{"type":"area","color":"#3274a1"},"encoding":{"x":{"field":"v","type":"quantitative","scale":{"domain":[0,1],"nice":false},"axis":null},"y":{"field":"d","type":"quantitative","scale":{"range":[17.7,3.2],"nice":false},"axis":null}}},
{"transform":[{"filter":"datum.m==='vocal'"},{"density":"v","as":["v","d"]}],"mark":{"type":"area","color":"#e1812c"},"encoding":{"x":{"field":"v","type":"quantitative","axis":null},"y":{"field":"d","type":"quantitative","scale":{"range":[17.7,32.2],"nice":false},"axis":null}}},
{"mark":"circle","encoding":{"x":{"field":"v","type":"quantitative","axis":null},"y":{"field":"m","type":"nominal","scale":{"type":"point","domain":["gesture","vocal"],"range":[10.2,25.2]},"axis":null},"color":{"field":"m","type":"nominal","title":"Modality","scale":{"domain":["gesture","vocal"],"range":["#1f77b4","#ff7f0e"]}}}},
{"transform":[{"filter":"datum.m==='gesture'"}],"mark":{"type":"boxplot","color":"#3274a1"},"encoding":{"x":{"field":"v","type":"quantitative","axis":null},"y":{"field":"m","type":"nominal","scale":{"type":"band","domain":["gesture","vocal"],"range":[8.7,26.7],"padding":0},"axis":null}}},
{"transform":[{"filter":"datum.m==='vocal'"}],"mark":{"type":"boxplot","color":"#e1812c"},"encoding":{"x":{"field":"v","type":"quantitative","axis":null},"y":{"field":"m","type":"nominal","scale":{"type":"band","domain":["gesture","vocal"],"range":[8.7,26.7],"padding":0},"axis":null}}},
{"data":{"values":[{}]},"mark":"rule","encoding":{"x":{"datum":0,"type":"quantitative","axis":null}}},
{"data":{"values":[{}]},"mark":"rule","encoding":{"x":{"datum":1,"type":"quantitative","axis":null}}},
{"mark":{"type":"point","opacity":0},"encoding":{"x":{"datum":0,"type":"quantitative","axis":null},"y":{"field":"c","type":"nominal"}}}
]},
{"width":319,"height":35,"transform":[{"filter":"datum.c==='motion'"}],"resolve":{"scale":{"y":"independent"}},"layer":[
{"transform":[{"filter":"datum.m==='gesture'"},{"density":"v","as":["v","d"]}],"mark":{"type":"area","color":"#3274a1"},"encoding":{"x":{"field":"v","type":"quantitative","scale":{"domain":[0,1],"nice":false},"axis":null},"y":{"field":"d","type":"quantitative","scale":{"range":[17.7,3.2],"nice":false},"axis":null}}},
{"transform":[{"filter":"datum.m==='vocal'"},{"density":"v","as":["v","d"]}],"mark":{"type":"area","color":"#e1812c"},"encoding":{"x":{"field":"v","type":"quantitative","axis":null},"y":{"field":"d","type":"quantitative","scale":{"range":[17.7,32.2],"nice":false},"axis":null}}},
{"mark":"circle","encoding":{"x":{"field":"v","type":"quantitative","axis":null},"y":{"field":"m","type":"nominal","scale":{"type":"point","domain":["gesture","vocal"],"range":[10.2,25.2]},"axis":null},"color":{"field":"m","type":"nominal","title":"Modality","scale":{"domain":["gesture","vocal"],"range":["#1f77b4","#ff7f0e"]}}}},
{"transform":[{"filter":"datum.m==='gesture'"}],"mark":{"type":"boxplot","color":"#3274a1"},"encoding":{"x":{"field":"v","type":"quantitative","axis":null},"y":{"field":"m","type":"nominal","scale":{"type":"band","domain":["gesture","vocal"],"range":[8.7,26.7],"padding":0},"axis":null}}},
{"transform":[{"filter":"datum.m==='vocal'"}],"mark":{"type":"boxplot","color":"#e1812c"},"encoding":{"x":{"field":"v","type":"quantitative","axis":null},"y":{"field":"m","type":"nominal","scale":{"type":"band","domain":["gesture","vocal"],"range":[8.7,26.7],"padding":0},"axis":null}}},
{"data":{"values":[{}]},"mark":"rule","encoding":{"x":{"datum":0,"type":"quantitative","axis":null}}},
{"data":{"values":[{}]},"mark":"rule","encoding":{"x":{"datum":1,"type":"quantitative","axis":null}}},
{"mark":{"type":"point","opacity":0},"encoding":{"x":{"datum":0,"type":"quantitative","axis":null},"y":{"field":"c","type":"nominal"}}}
]},
{"width":319,"height":36,"transform":[{"filter":"datum.c==='cognitive'"}],"resolve":{"scale":{"y":"independent"}},"layer":[
{"transform":[{"filter":"datum.m==='gesture'"},{"density":"v","as":["v","d"]}],"mark":{"type":"area","color":"#3274a1"},"encoding":{"x":{"field":"v","type":"quantitative","scale":{"domain":[0,1],"nice":false},"axis":null},"y":{"field":"d","type":"quantitative","scale":{"range":[17.7,3.2],"nice":false},"axis":null}}},
{"transform":[{"filter":"datum.m==='vocal'"},{"density":"v","as":["v","d"]}],"mark":{"type":"area","color":"#e1812c"},"encoding":{"x":{"field":"v","type":"quantitative","axis":null},"y":{"field":"d","type":"quantitative","scale":{"range":[17.7,32.2],"nice":false},"axis":null}}},
{"mark":"circle","encoding":{"x":{"field":"v","type":"quantitative","axis":null},"y":{"field":"m","type":"nominal","scale":{"type":"point","domain":["gesture","vocal"],"range":[10.2,25.2]},"axis":null},"color":{"field":"m","type":"nominal","title":"Modality","scale":{"domain":["gesture","vocal"],"range":["#1f77b4","#ff7f0e"]}}}},
{"transform":[{"filter":"datum.m==='gesture'"}],"mark":{"type":"boxplot","color":"#3274a1"},"encoding":{"x":{"field":"v","type":"quantitative","axis":null},"y":{"field":"m","type":"nominal","scale":{"type":"band","domain":["gesture","vocal"],"range":[8.7,26.7],"padding":0},"axis":null}}},
{"transform":[{"filter":"datum.m==='vocal'"}],"mark":{"type":"boxplot","color":"#e1812c"},"encoding":{"x":{"field":"v","type":"quantitative","axis":null},"y":{"field":"m","type":"nominal","scale":{"type":"band","domain":["gesture","vocal"],"range":[8.7,26.7],"padding":0},"axis":null}}},
{"data":{"values":[{}]},"mark":"rule","encoding":{"x":{"datum":0,"type":"quantitative","axis":null}}},
{"data":{"values":[{}]},"mark":"rule","encoding":{"x":{"datum":1,"type":"quantitative","axis":null}}},
{"mark":{"type":"point","opacity":0},"encoding":{"x":{"datum":0,"type":"quantitative","axis":null},"y":{"field":"c","type":"nominal"}}}
]},
{"width":319,"height":35,"transform":[{"filter":"datum.c==='question'"}],"resolve":{"scale":{"y":"independent"}},"layer":[
{"transform":[{"filter":"datum.m==='gesture'"},{"density":"v","as":["v","d"]}],"mark":{"type":"area","color":"#3274a1"},"encoding":{"x":{"field":"v","type":"quantitative","scale":{"domain":[0,1],"nice":false},"axis":{"orient":"bottom","values":[0,0.2,0.4,0.6,0.8,1],"format":".1f","title":"Expressibility","labelFontSize":12.5,"labelColor":"#333333","titleFontSize":15.5,"titleFontWeight":"normal","titleColor":"#262626","labelPadding":8,"titlePadding":5}},"y":{"field":"d","type":"quantitative","scale":{"range":[17.7,3.2],"nice":false},"axis":null}}},
{"transform":[{"filter":"datum.m==='vocal'"},{"density":"v","as":["v","d"]}],"mark":{"type":"area","color":"#e1812c"},"encoding":{"x":{"field":"v","type":"quantitative","axis":{"orient":"bottom","values":[0,0.2,0.4,0.6,0.8,1],"format":".1f","title":"Expressibility","labelFontSize":12.5,"labelColor":"#333333","titleFontSize":15.5,"titleFontWeight":"normal","titleColor":"#262626","labelPadding":8,"titlePadding":5}},"y":{"field":"d","type":"quantitative","scale":{"range":[17.7,32.2],"nice":false},"axis":null}}},
{"mark":"circle","encoding":{"x":{"field":"v","type":"quantitative","axis":{"orient":"bottom","values":[0,0.2,0.4,0.6,0.8,1],"format":".1f","title":"Expressibility","labelFontSize":12.5,"labelColor":"#333333","titleFontSize":15.5,"titleFontWeight":"normal","titleColor":"#262626","labelPadding":8,"titlePadding":5}},"y":{"field":"m","type":"nominal","scale":{"type":"point","domain":["gesture","vocal"],"range":[10.2,25.2]},"axis":null},"color":{"field":"m","type":"nominal","title":"Modality","scale":{"domain":["gesture","vocal"],"range":["#1f77b4","#ff7f0e"]}}}},
{"transform":[{"filter":"datum.m==='gesture'"}],"mark":{"type":"boxplot","color":"#3274a1"},"encoding":{"x":{"field":"v","type":"quantitative","axis":{"orient":"bottom","values":[0,0.2,0.4,0.6,0.8,1],"format":".1f","title":"Expressibility","labelFontSize":12.5,"labelColor":"#333333","titleFontSize":15.5,"titleFontWeight":"normal","titleColor":"#262626","labelPadding":8,"titlePadding":5}},"y":{"field":"m","type":"nominal","scale":{"type":"band","domain":["gesture","vocal"],"range":[8.7,26.7],"padding":0},"axis":null}}},
{"transform":[{"filter":"datum.m==='vocal'"}],"mark":{"type":"boxplot","color":"#e1812c"},"encoding":{"x":{"field":"v","type":"quantitative","axis":{"orient":"bottom","values":[0,0.2,0.4,0.6,0.8,1],"format":".1f","title":"Expressibility","labelFontSize":12.5,"labelColor":"#333333","titleFontSize":15.5,"titleFontWeight":"normal","titleColor":"#262626","labelPadding":8,"titlePadding":5}},"y":{"field":"m","type":"nominal","scale":{"type":"band","domain":["gesture","vocal"],"range":[8.7,26.7],"padding":0},"axis":null}}},
{"data":{"values":[{}]},"mark":"rule","encoding":{"x":{"datum":0,"type":"quantitative","axis":{"orient":"bottom","values":[0,0.2,0.4,0.6,0.8,1],"format":".1f","title":"Expressibility","labelFontSize":12.5,"labelColor":"#333333","titleFontSize":15.5,"titleFontWeight":"normal","titleColor":"#262626","labelPadding":8,"titlePadding":5}}}},
{"data":{"values":[{}]},"mark":"rule","encoding":{"x":{"datum":1,"type":"quantitative","axis":{"orient":"bottom","values":[0,0.2,0.4,0.6,0.8,1],"format":".1f","title":"Expressibility","labelFontSize":12.5,"labelColor":"#333333","titleFontSize":15.5,"titleFontWeight":"normal","titleColor":"#262626","labelPadding":8,"titlePadding":5}}}},
{"mark":{"type":"point","opacity":0},"encoding":{"x":{"datum":0,"type":"quantitative","axis":{"orient":"bottom","values":[0,0.2,0.4,0.6,0.8,1],"format":".1f","title":"Expressibility","labelFontSize":12.5,"labelColor":"#333333","titleFontSize":15.5,"titleFontWeight":"normal","titleColor":"#262626","labelPadding":8,"titlePadding":5}},"y":{"field":"c","type":"nominal"}}}
]}
  ]
}
